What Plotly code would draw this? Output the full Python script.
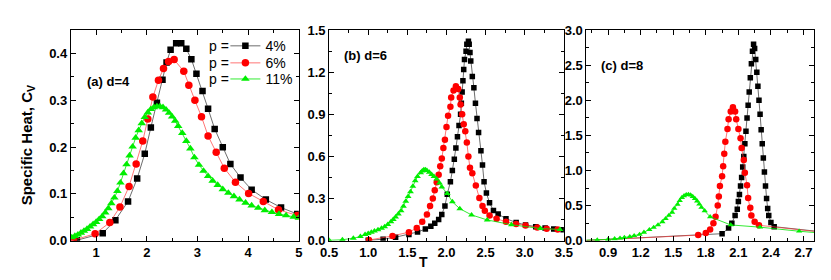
import plotly.graph_objects as go

# ---------------- data ----------------
# Panel (a) d=4
a_T_4 = [0.62, 1.13, 1.38, 1.63, 1.81, 1.96, 2.08, 2.20, 2.31, 2.39, 2.47, 2.58, 2.68, 2.78, 2.88, 2.98,
         3.10, 3.21, 3.34, 3.50, 3.65, 3.85, 4.07, 4.35, 4.65, 4.97]
a_C_4 = [0.001, 0.016, 0.044, 0.084, 0.133, 0.186, 0.242, 0.295, 0.344, 0.381, 0.408, 0.422, 0.422, 0.410,
         0.388, 0.357, 0.320, 0.282, 0.239, 0.200, 0.164, 0.135, 0.109, 0.088, 0.071, 0.057]
a_T_6 = [0.55, 0.98, 1.27, 1.47, 1.65, 1.79, 1.92, 2.02, 2.12, 2.23, 2.33, 2.43, 2.54, 2.73, 2.83, 2.95,
         3.08, 3.21, 3.37, 3.53, 3.75, 4.01, 4.30, 4.60, 4.97]
a_C_6 = [0.001, 0.015, 0.039, 0.072, 0.116, 0.164, 0.213, 0.260, 0.307, 0.343, 0.368, 0.383, 0.387, 0.362,
         0.332, 0.300, 0.265, 0.224, 0.189, 0.155, 0.125, 0.101, 0.084, 0.066, 0.054]
a_T_11 = [0.52, 0.58, 0.64, 0.70, 0.76, 0.82, 0.88, 0.94, 1.00, 1.06, 1.12, 1.18, 1.24, 1.30, 1.36, 1.42,
          1.48, 1.54, 1.60, 1.66, 1.72, 1.78, 1.84, 1.90, 1.96, 2.02, 2.08, 2.14, 2.20, 2.26, 2.32, 2.38,
          2.44, 2.50, 2.56, 2.62, 2.70, 2.78, 2.86, 2.94, 3.03, 3.12, 3.21, 3.30, 3.40, 3.50, 3.61, 3.72,
          3.83, 3.95, 4.07, 4.20, 4.33, 4.47, 4.61, 4.75, 4.90, 5.0]
a_C_11 = [0.007, 0.010, 0.013, 0.017, 0.021, 0.025, 0.030, 0.035, 0.040, 0.046, 0.052, 0.060, 0.069, 0.080,
          0.092, 0.106, 0.124, 0.144, 0.163, 0.182, 0.201, 0.220, 0.236, 0.251, 0.264, 0.274, 0.281, 0.285,
          0.287, 0.287, 0.285, 0.280, 0.273, 0.265, 0.256, 0.245, 0.230, 0.213, 0.197, 0.178, 0.162, 0.149,
          0.138, 0.128, 0.119, 0.110, 0.102, 0.095, 0.088, 0.081, 0.075, 0.070, 0.065, 0.061, 0.057, 0.054,
          0.051, 0.049]

# Panel (b) d=6
b_T_4 = [1.00, 1.19, 1.35, 1.52, 1.63, 1.73, 1.80, 1.85, 1.90, 1.94, 1.98, 2.01, 2.05, 2.075, 2.10, 2.12,
         2.14, 2.16, 2.18, 2.19, 2.20, 2.21, 2.22, 2.23, 2.25, 2.26, 2.28, 2.29, 2.30, 2.31, 2.33, 2.35,
         2.37, 2.39, 2.41, 2.44, 2.46, 2.48, 2.51, 2.55, 2.60, 2.66, 2.76, 2.89, 3.01, 3.14, 3.26, 3.37, 3.49]
b_C_4 = [0.003, 0.011, 0.025, 0.045, 0.062, 0.083, 0.103, 0.124, 0.152, 0.187, 0.247, 0.331, 0.42, 0.50,
         0.58, 0.66, 0.74, 0.82, 0.90, 0.98, 1.06, 1.14, 1.22, 1.29, 1.35, 1.40, 1.42, 1.40, 1.34, 1.28,
         1.17, 1.09, 0.98, 0.87, 0.77, 0.64, 0.54, 0.42, 0.34, 0.27, 0.215, 0.19, 0.157, 0.130, 0.112,
         0.100, 0.090, 0.083, 0.078]
b_T_6 = [1.01, 1.31, 1.52, 1.62, 1.69, 1.75, 1.79, 1.825, 1.85, 1.875, 1.90, 1.92, 1.94, 1.96, 1.98, 2.00,
         2.02, 2.05, 2.06, 2.09, 2.12, 2.15, 2.17, 2.18, 2.20, 2.22, 2.24, 2.26, 2.28, 2.30, 2.33, 2.375,
         2.42, 2.46, 2.49, 2.55, 2.64, 2.76, 2.89, 3.01, 3.16, 3.28, 3.42]
b_C_6 = [0.005, 0.034, 0.061, 0.090, 0.135, 0.187, 0.247, 0.300, 0.360, 0.416, 0.470, 0.530, 0.585, 0.66,
         0.72, 0.81, 0.89, 0.955, 1.02, 1.07, 1.10, 1.08, 1.02, 0.97, 0.90, 0.83, 0.78, 0.70, 0.60, 0.52,
         0.48, 0.394, 0.304, 0.247, 0.213, 0.180, 0.157, 0.135, 0.119, 0.108, 0.094, 0.085, 0.080]
b_T_11 = [0.50, 0.67, 0.81, 0.90, 0.96, 1.00, 1.04, 1.08, 1.125, 1.17, 1.21, 1.25, 1.29, 1.32, 1.35, 1.385,
          1.42, 1.45, 1.48, 1.51, 1.54, 1.57, 1.60, 1.63, 1.67, 1.69, 1.71, 1.73, 1.75, 1.78, 1.81, 1.84,
          1.875, 1.91, 1.94, 2.01, 2.075, 2.17, 2.32, 2.52, 2.83, 3.20, 3.45]
b_C_11 = [0.003, 0.007, 0.018, 0.030, 0.045, 0.052, 0.060, 0.069, 0.079, 0.089, 0.100, 0.116, 0.135,
          0.151, 0.169, 0.190, 0.214, 0.245, 0.281, 0.315, 0.349, 0.388, 0.427, 0.458, 0.484, 0.497, 0.506,
          0.505, 0.500, 0.488, 0.472, 0.457, 0.439, 0.412, 0.382, 0.337, 0.277, 0.228, 0.184, 0.148, 0.114,
          0.087, 0.080]

# Panel (c) d=8
c_T_4 = [0.65, 1.95, 2.01, 2.04, 2.07, 2.09, 2.10, 2.11, 2.12, 2.13, 2.14, 2.15, 2.16, 2.17, 2.18, 2.19,
         2.20, 2.21, 2.22, 2.23, 2.24, 2.25, 2.26, 2.27, 2.28, 2.29, 2.30, 2.31, 2.32, 2.33, 2.34, 2.35,
         2.36, 2.37, 2.38, 2.40, 2.43, 2.85]
c_C_4 = [0.0, 0.10, 0.18, 0.25, 0.36, 0.45, 0.56, 0.66, 0.78, 0.90, 1.05, 1.20, 1.38, 1.56, 1.75, 1.93,
         2.12, 2.32, 2.52, 2.70, 2.80, 2.74, 2.58, 2.40, 2.20, 2.00, 1.80, 1.58, 1.38, 1.18, 0.98, 0.78,
         0.60, 0.46, 0.36, 0.26, 0.20, 0.13]
c_T_6 = [0.65, 1.73, 1.80, 1.84, 1.87, 1.89, 1.91, 1.92, 1.93, 1.95, 1.96, 1.97, 1.98, 2.00, 2.01, 2.03,
         2.05, 2.07, 2.08, 2.10, 2.12, 2.13, 2.15, 2.16, 2.18, 2.19, 2.21, 2.22, 2.25, 2.29, 2.85]
c_C_6 = [0.0, 0.08, 0.11, 0.16, 0.25, 0.34, 0.50, 0.63, 0.78, 0.92, 1.06, 1.24, 1.41, 1.59, 1.73, 1.84,
         1.90, 1.84, 1.73, 1.59, 1.46, 1.32, 1.15, 0.97, 0.79, 0.61, 0.47, 0.36, 0.27, 0.22, 0.125]
c_T_11 = [0.65, 0.80, 0.90, 0.96, 1.01, 1.05, 1.10, 1.14, 1.19, 1.23, 1.28, 1.32, 1.36, 1.40, 1.43, 1.46,
          1.49, 1.51, 1.54, 1.56, 1.58, 1.60, 1.62, 1.64, 1.66, 1.68, 1.70, 1.72, 1.74, 1.76, 1.79, 1.84,
          2.03, 2.30, 2.66, 2.85]
c_C_11 = [0.005, 0.010, 0.020, 0.027, 0.036, 0.045, 0.058, 0.072, 0.090, 0.120, 0.158, 0.190, 0.225,
          0.270, 0.314, 0.360, 0.404, 0.460, 0.517, 0.570, 0.615, 0.640, 0.655, 0.660, 0.650, 0.630, 0.600,
          0.565, 0.520, 0.475, 0.427, 0.340, 0.225, 0.193, 0.135, 0.110]

series_names = ["4%", "6%", "11%"]
panel_labels = ["(a) d=4", "(b) d=6", "(c) d=8"]
x_ticks = [[1, 2, 3, 4, 5], [0.5, 1.0, 1.5, 2.0, 2.5, 3.0, 3.5], [0.9, 1.2, 1.5, 1.8, 2.1, 2.4, 2.7]]
x_ticktext = [["1", "2", "3", "4", "5"], ["0.5", "1.0", "1.5", "2.0", "2.5", "3.0", "3.5"],
              ["0.9", "1.2", "1.5", "1.8", "2.1", "2.4", "2.7"]]
y_ticks = [[0.0, 0.1, 0.2, 0.3, 0.4], [0.0, 0.3, 0.6, 0.9, 1.2, 1.5], [0.0, 0.5, 1.0, 1.5, 2.0, 2.5, 3.0]]
y_ticktext = [["0.0", "0.1", "0.2", "0.3", "0.4"], ["0.0", "0.3", "0.6", "0.9", "1.2", "1.5"],
              ["0.0", "0.5", "1.0", "1.5", "2.0", "2.5", "3.0"]]

# ---------------- style ----------------
W, H = 831, 280
x_dom_px = [(55, 288), (319, 559), (582, 815)]
y_dom_px = (16, 238.5)
x_ranges = [[0.5, 5.0], [0.5, 3.5], [0.7, 2.8]]
y_ranges = [[0, 0.45], [0, 1.5], [0, 3.0]]
x_minor = [0.5, 0.25, 0.15]
y_minor = [0.05, 0.15, 0.25]

styles = [
    dict(symbol="square", color="#000000", line="rgba(60,60,60,0.75)"),
    dict(symbol="circle", color="#ff0000", line="rgba(255,60,60,0.7)"),
    dict(symbol="triangle-up", color="#00ee00", line="rgba(0,230,0,0.8)"),
]
msize = [[6.5, 7.5, 7.5], [5.5, 6.5, 6], [5.5, 6.5, 5.5]]
legend_ids = ["legend", "legend2", "legend3"]
legend_rows_px = [33, 51, 68]
legend_left_px = 213

data = [
    [(a_T_4, a_C_4), (a_T_6, a_C_6), (a_T_11, a_C_11)],
    [(b_T_4, b_C_4), (b_T_6, b_C_6), (b_T_11, b_C_11)],
    [(c_T_4, c_C_4), (c_T_6, c_C_6), (c_T_11, c_C_11)],
]

fig = go.Figure()
for p in range(3):
    xa = "x" if p == 0 else f"x{p+1}"
    ya = "y" if p == 0 else f"y{p+1}"
    for s in range(3):
        T, C = data[p][s]
        st = styles[s]
        fig.add_trace(go.Scatter(
            x=T, y=C, mode="lines+markers", xaxis=xa, yaxis=ya,
            name=series_names[s], showlegend=(p == 0), legend=legend_ids[s],
            line=dict(color=st["line"], width=1),
            marker=dict(symbol=st["symbol"], color=st["color"], size=msize[p][s], line=dict(width=0)),
        ))

font_family = "Liberation Sans, Arial, sans-serif"
layout = dict(
    width=W, height=H, margin=dict(l=0, r=0, t=0, b=0),
    paper_bgcolor="white", plot_bgcolor="white",
    font=dict(family=font_family, color="black"),
    showlegend=True,
)
for lid, row in zip(legend_ids, legend_rows_px):
    layout[lid] = dict(x=legend_left_px / W, y=1 - row / H, xanchor="left", yanchor="middle",
                       bgcolor="rgba(0,0,0,0)", borderwidth=0,
                       font=dict(size=14, family=font_family), itemwidth=30)
yd = [1 - y_dom_px[1] / H, 1 - y_dom_px[0] / H]
for p in range(3):
    xk = "xaxis" if p == 0 else f"xaxis{p+1}"
    yk = "yaxis" if p == 0 else f"yaxis{p+1}"
    xa = "x" if p == 0 else f"x{p+1}"
    ya = "y" if p == 0 else f"y{p+1}"
    layout[xk] = dict(
        domain=[x_dom_px[p][0] / W, x_dom_px[p][1] / W], range=x_ranges[p], anchor=ya,
        tickmode="array", tickvals=x_ticks[p], ticktext=x_ticktext[p],
        ticks="inside", ticklen=5, tickwidth=1, tickcolor="black",
        minor=dict(dtick=x_minor[p], ticks="inside", ticklen=3, tickcolor="black", showgrid=False),
        showline=True, linecolor="black", linewidth=1, mirror="allticks",
        showgrid=False, zeroline=False,
        tickfont=dict(size=13, weight="bold", family=font_family),
    )
    layout[yk] = dict(
        domain=yd, range=y_ranges[p], anchor=xa,
        tickmode="array", tickvals=y_ticks[p], ticktext=y_ticktext[p],
        ticks="inside", ticklen=5, tickwidth=1, tickcolor="black",
        minor=dict(dtick=y_minor[p], ticks="inside", ticklen=3, tickcolor="black", showgrid=False),
        showline=True, linecolor="black", linewidth=1, mirror="allticks",
        showgrid=False, zeroline=False,
        tickfont=dict(size=13, weight="bold", family=font_family),
    )
fig.update_layout(**layout)

annots = []
label_pos = [(70, 70), (332, 43), (595, 53)]
for p in range(3):
    annots.append(dict(text=f"<b>{panel_labels[p]}</b>", x=label_pos[p][0] / W, y=1 - label_pos[p][1] / H,
                       xref="paper", yref="paper", xanchor="left", yanchor="middle", showarrow=False,
                       font=dict(size=13, family=font_family)))
for row in legend_rows_px:
    annots.append(dict(text="p =", x=(legend_left_px + 6) / W, y=1 - row / H, xref="paper", yref="paper",
                       xanchor="right", yanchor="middle", showarrow=False,
                       font=dict(size=14, family=font_family)))
annots.append(dict(text="<b>Specific Heat, C<sub>V</sub></b>", x=11 / W, y=1 - 138 / H, xref="paper",
                   yref="paper", xanchor="center", yanchor="middle", textangle=-90, showarrow=False,
                   font=dict(size=15, family=font_family)))
annots.append(dict(text="<b>T</b>", x=415 / W, y=1 - 261 / H, xref="paper", yref="paper",
                   xanchor="center", yanchor="middle", showarrow=False,
                   font=dict(size=14, family=font_family)))
fig.update_layout(annotations=annots)

fig.write_html("out.html")
